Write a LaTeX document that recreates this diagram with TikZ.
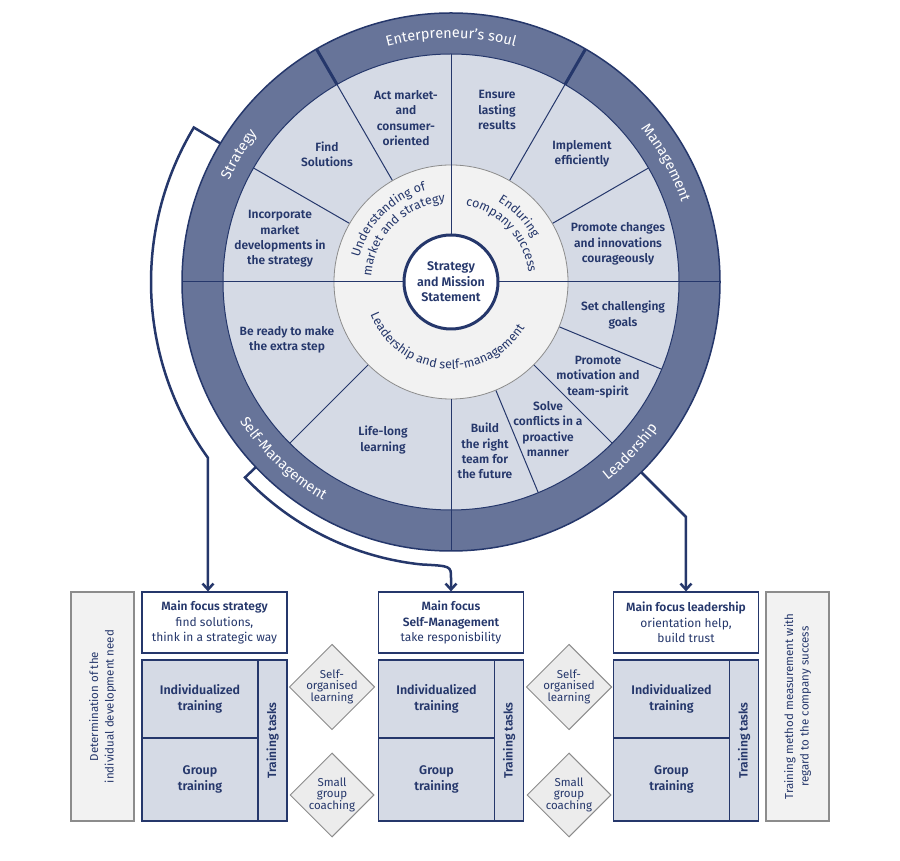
\documentclass[tikz,border=0pt]{standalone}
\usepackage{fontspec}
\setmainfont{Fira Sans}[BoldFont={Fira Sans SemiBold}]
\usepackage{tikz}
\usetikzlibrary{shapes.geometric, arrows.meta, positioning, decorations.text, calc}
\definecolor{navy}{RGB}{37,55,107}
\definecolor{ringblue}{RGB}{103,116,153}
\definecolor{wedgeblue}{RGB}{213,218,229}
\definecolor{midgray}{RGB}{242,242,242}
\definecolor{diagray}{RGB}{236,236,236}
\definecolor{edgegray}{RGB}{140,140,140}
\newcommand\ringfont{\fontsize{14.5}{15}\selectfont\color{white}}
\newcommand\midfont{\fontsize{12.5}{13}\selectfont\color{navy}}
\tikzset{
  thinln/.style={draw=navy,line width=1pt},
  wtxt/.style={font=\fontsize{12}{15.3}\selectfont\bfseries,text=navy,
               align=center,inner sep=0pt},
  hub/.style={circle,draw=navy,line width=3pt,fill=white,minimum size=94,
              inner sep=0pt,font=\fontsize{12.5}{15.5}\selectfont\bfseries,
              text=navy,align=center},
  focus/.style={rectangle,draw=navy,line width=1.2pt,fill=white,
                minimum width=145,minimum height=61,inner sep=0pt,
                font=\fontsize{12}{15.3}\selectfont,text=navy,align=center},
  cell/.style={rectangle,draw=navy,line width=1.2pt,fill=wedgeblue,
               minimum width=116,minimum height=78,inner sep=0pt,
               font=\fontsize{12.5}{15.5}\selectfont\bfseries,text=navy,align=center},
  strip/.style={cell,rotate=90,minimum width=161,minimum height=29,
                font=\fontsize{12}{14}\selectfont\bfseries},
  side/.style={rectangle,draw=edgegray,line width=1.2pt,fill=midgray,rotate=90,
               minimum width=229,minimum height=63,inner sep=0pt,
               font=\fontsize{11.5}{15.5}\selectfont,text=navy,align=center},
  dia/.style={diamond,draw=edgegray,line width=1pt,fill=diagray,aspect=1,
              minimum size=84,inner sep=0pt,
              font=\fontsize{11.5}{10.5}\selectfont,text=navy,align=center},
  conn/.style={draw=navy,line width=2.5pt,-{Straight Barb[length=6pt,width=11pt]}},
}
\begin{document}
\begin{tikzpicture}[x=1pt,y=1pt]
  \useasboundingbox[fill=white] (0,0) rectangle (900,860);
  \coordinate (C) at (451,578);
  % wheel
  \fill[ringblue] (C) circle[radius=269];
  \fill[wedgeblue] (C) circle[radius=228];
  \draw[thinln] (C) circle[radius=228];
  \draw[navy,line width=1.5pt] (C) circle[radius=269];
  \foreach \a in {30,60,120,150,225,292.5,315,337.5}
    \draw[thinln] ($(C)+(\a:117)$) -- ($(C)+(\a:228)$);
  \foreach \a in {60,120}
    \draw[navy,line width=3pt] ($(C)+(\a:228)$) -- ($(C)+(\a:269)$);
  \filldraw[fill=midgray,draw=edgegray,line width=0.8pt] (C) circle[radius=117];
  \draw[thinln] ($(C)+(90:47)$) -- ($(C)+(90:228)$);
  \draw[thinln] ($(C)+(0:47)$) -- ($(C)+(0:269)$);
  \draw[thinln] ($(C)+(180:47)$) -- ($(C)+(180:269)$);
  \draw[thinln] ($(C)+(270:117)$) -- ($(C)+(270:269)$);
  \node[hub] (hub) at (C) {Strategy\\and Mission\\Statement};

  % ring labels
  \path[decorate,decoration={text along path,text align=center,
    text={|\ringfont|Enterpreneur's soul}}]
    ($(C)+(130:244)$) arc[start angle=130,end angle=50,radius=244];
  \path[decorate,decoration={text along path,text align=center,
    text={|\ringfont|Management}}]
    ($(C)+(69:244)$) arc[start angle=69,end angle=-11,radius=244];
  \path[decorate,decoration={text along path,text align=center,
    text={|\ringfont|Strategy}}]
    ($(C)+(189:244)$) arc[start angle=189,end angle=109,radius=244];
  \path[decorate,decoration={text along path,text align=center,
    text={|\ringfont|Self-Management}}]
    ($(C)+(186.5:253)$) arc[start angle=186.5,end angle=266.5,radius=253];
  \path[decorate,decoration={text along path,text align=center,
    text={|\ringfont|Leadership}}]
    ($(C)+(276.5:253)$) arc[start angle=276.5,end angle=356.5,radius=253];

  % middle ring labels
  \path[decorate,decoration={text along path,text align=center,
    text={|\midfont|Understanding of}}]
    ($(C)+(185:95)$) arc[start angle=185,end angle=85,radius=95];
  \path[decorate,decoration={text along path,text align=center,
    text={|\midfont|market and strategy}}]
    ($(C)+(190:80)$) arc[start angle=190,end angle=80,radius=80];
  \path[decorate,decoration={text along path,text align=center,
    text={|\midfont|Enduring}}]
    ($(C)+(94:93)$) arc[start angle=94,end angle=-6,radius=93];
  \path[decorate,decoration={text along path,text align=center,
    text={|\midfont|company success}}]
    ($(C)+(103:78)$) arc[start angle=103,end angle=-17,radius=78];
  \path[decorate,decoration={text along path,text align=center,
    text={|\midfont|Leadership and self-management}}]
    ($(C)+(190:87)$) arc[start angle=190,end angle=340,radius=87];

  % wedges
  \node[wtxt] (act) at (406,742) {Act market-\\and\\consumer-\\oriented};
  \node[wtxt] (ens) at (497,750) {Ensure\\lasting\\results};
  \node[wtxt] (fnd) at (327,706) {Find\\Solutions};
  \node[wtxt] (imp) at (582,706) {Implement\\efficiently};
  \node[wtxt] (inc) at (280,621) {Incorporate\\market\\developments in\\the strategy};
  \node[wtxt] (prc) at (618,616) {Promote changes\\and innovations\\courageously};
  \node[wtxt] (rdy) at (287,520) {Be ready to make\\the extra step};
  \node[wtxt] (set) at (623,545) {Set challenging\\goals};
  \node[wtxt] (mot) at (598,483) {Promote\\motivation and\\team-spirit};
  \node[wtxt] (sol) at (548,431) {Solve\\conflicts in a\\proactive\\manner};
  \node[wtxt] (bld) at (485,409) {Build\\the right\\team for\\the future};
  \node[wtxt] (lif) at (383,420) {Life-long\\learning};

  % lower part
  \node[focus] (fs) at (214.5,237.5) {\textbf{Main focus strategy}\\find solutions,\\think in a strategic way};
  \node[focus] (fm) at (451,237.5) {\textbf{Main focus}\\\textbf{Self-Management}\\take responisbility};
  \node[focus] (fl) at (686,237.5) {\textbf{Main focus leadership}\\orientation help,\\build trust};
  \foreach \c/\x in {s/214.5,m/451,l/686}{
    \node[cell] (i\c) at (\x-14.5,161) {Individualized\\training};
    \node[cell,minimum height=83] (g\c) at (\x-14.5,80.5) {Group\\training};
    \node[strip] (t\c) at (\x+58,119.5) {Training tasks};
  }
  \node[side] (need) at (102.5,153.5) {Determination of the\\individual development need};
  \node[side] (meas) at (797.5,153.5) {Training method measurement with\\regard to the company success};
  \node[dia] (so1) at (332,173) {Self-\\organised\\learning};
  \node[dia] (sg1) at (332,65) {Small\\group\\coaching};
  \node[dia] (so2) at (569,173) {Self-\\organised\\learning};
  \node[dia] (sg2) at (569,65) {Small\\group\\coaching};

  % connectors
  \coordinate (sout) at ($(C)+(149:269)$);
  \coordinate (sdrop) at ($(C)+(215.9:300)$);
  \coordinate (mout) at ($(C)+(223.5:269)$);
  \coordinate (lout) at ($(C)+(315:269)$);
  \draw[conn] (sout) -- ($(C)+(149:300)$) arc[start angle=149,end angle=215.9,radius=300]
    -- (sdrop |- fs.north);
  \draw[conn] (mout) -- ($(C)+(223.5:284)$) arc[start angle=223.5,end angle=264,radius=284]
    .. controls ($(C)+(270:284)$) .. ($(C)+(270:284)+(0,-12)$) -- (fm.north);
  \draw[conn] (lout) -- ($(C)+(315:332)$) -- (fl.north);
\end{tikzpicture}
\end{document}
